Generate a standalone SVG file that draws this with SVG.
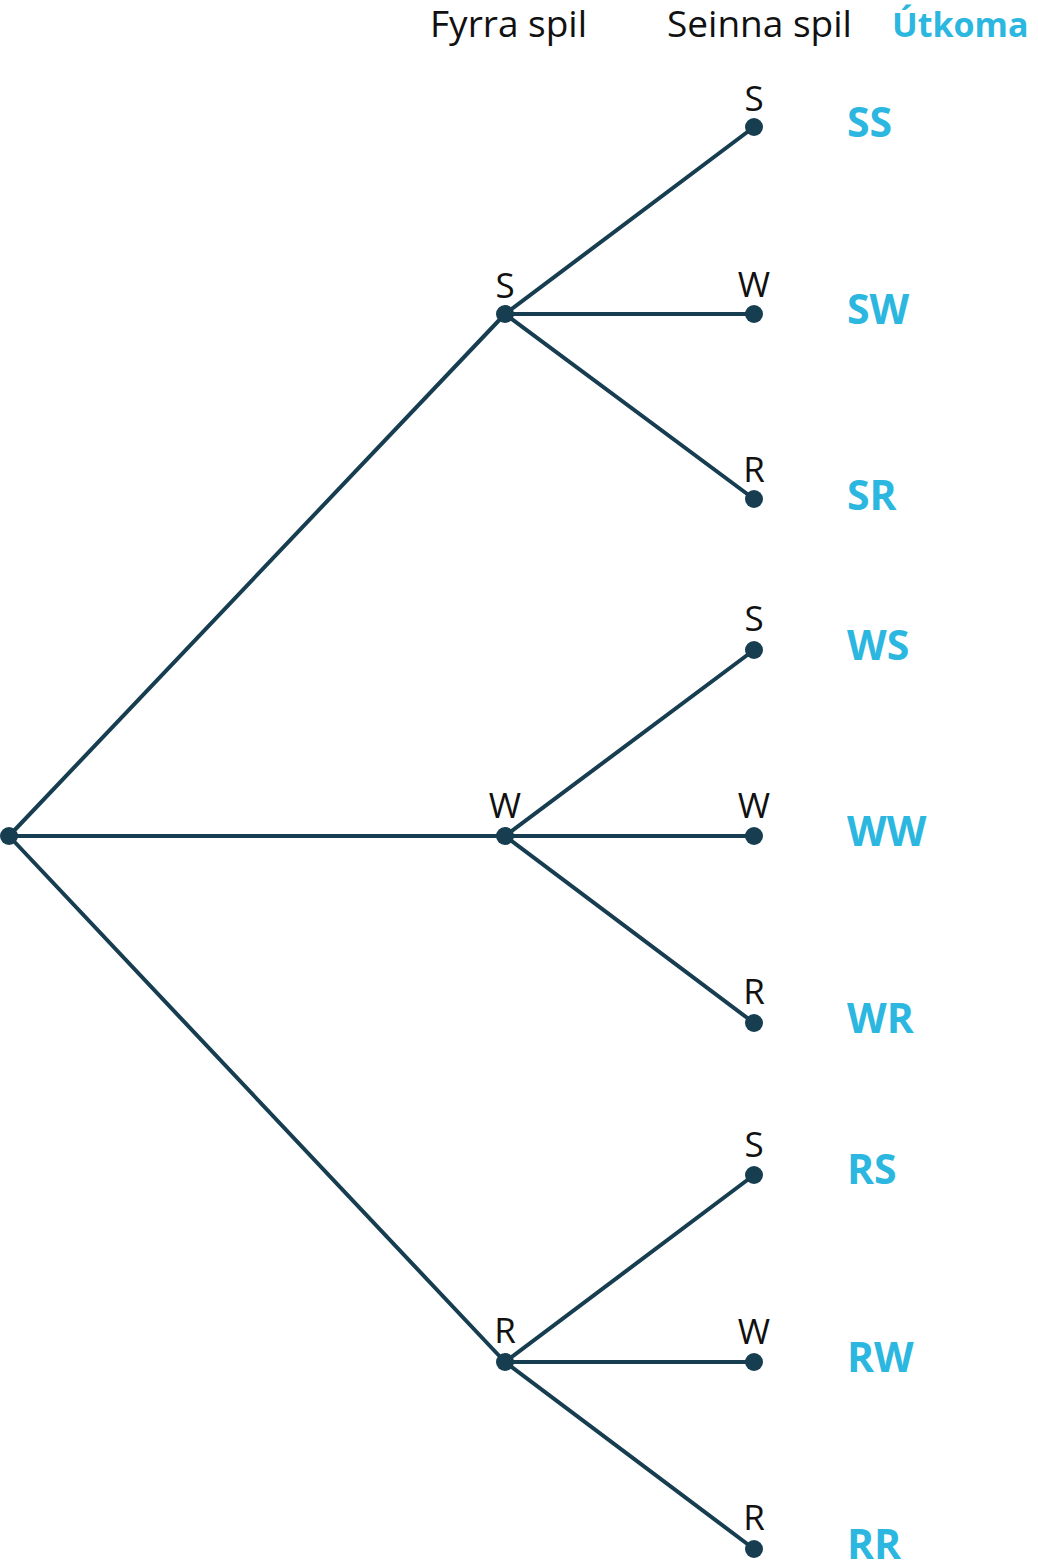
<svg xmlns="http://www.w3.org/2000/svg" width="1038" height="1564" viewBox="0 0 1038 1564">
<style>
.e{stroke:#173d50;stroke-width:4;fill:none;stroke-linecap:round}
.d{fill:#173d50}
.h{font-family:"Open Sans","Noto Sans",sans-serif;font-size:37px;fill:#111}
.hb{font-family:"Open Sans","Noto Sans",sans-serif;font-size:34px;font-weight:bold;fill:#2bb7df}
.l{font-family:"Open Sans","Noto Sans",sans-serif;font-size:35px;fill:#111;text-anchor:middle}
.o{font-family:"Open Sans","Noto Sans",sans-serif;font-size:41px;font-weight:bold;fill:#2bb7df}
</style>
<rect width="1038" height="1564" fill="#fff"/>
<g id="headers">
<text class="h" x="430" y="37">Fyrra spil</text>
<text class="h" x="667" y="37">Seinna spil</text>
<text class="hb" x="892" y="37">Útkoma</text>
</g>
<g id="connectors">
<line class="e" x1="9" y1="836" x2="505" y2="314"/>
<line class="e" x1="9" y1="836" x2="505" y2="836"/>
<line class="e" x1="9" y1="836" x2="505" y2="1362"/>
<line class="e" x1="505" y1="314" x2="754" y2="127"/>
<line class="e" x1="505" y1="314" x2="754" y2="314"/>
<line class="e" x1="505" y1="314" x2="754" y2="499"/>
<line class="e" x1="505" y1="836" x2="754" y2="650"/>
<line class="e" x1="505" y1="836" x2="754" y2="836"/>
<line class="e" x1="505" y1="836" x2="754" y2="1023"/>
<line class="e" x1="505" y1="1362" x2="754" y2="1175"/>
<line class="e" x1="505" y1="1362" x2="754" y2="1362"/>
<line class="e" x1="505" y1="1362" x2="754" y2="1549"/>
</g>
<g id="root"><circle class="d" cx="9" cy="836" r="9"/></g>
<g id="n-S"><circle class="d" cx="505" cy="314" r="9"/><text class="l" x="505" y="298">S</text></g>
<g id="n-W"><circle class="d" cx="505" cy="836" r="9"/><text class="l" x="505" y="818">W</text></g>
<g id="n-R"><circle class="d" cx="505" cy="1362" r="9"/><text class="l" x="505" y="1343">R</text></g>
<g id="n-SS"><circle class="d" cx="754" cy="127" r="9"/><text class="l" x="754" y="111">S</text><text class="o" x="847" y="137">SS</text></g>
<g id="n-SW"><circle class="d" cx="754" cy="314" r="9"/><text class="l" x="754" y="297">W</text><text class="o" x="847" y="324">SW</text></g>
<g id="n-SR"><circle class="d" cx="754" cy="499" r="9"/><text class="l" x="754" y="482">R</text><text class="o" x="847" y="510">SR</text></g>
<g id="n-WS"><circle class="d" cx="754" cy="650" r="9"/><text class="l" x="754" y="631">S</text><text class="o" x="847" y="660">WS</text></g>
<g id="n-WW"><circle class="d" cx="754" cy="836" r="9"/><text class="l" x="754" y="818">W</text><text class="o" x="847" y="846">WW</text></g>
<g id="n-WR"><circle class="d" cx="754" cy="1023" r="9"/><text class="l" x="754" y="1004">R</text><text class="o" x="847" y="1033">WR</text></g>
<g id="n-RS"><circle class="d" cx="754" cy="1175" r="9"/><text class="l" x="754" y="1157">S</text><text class="o" x="847" y="1184">RS</text></g>
<g id="n-RW"><circle class="d" cx="754" cy="1362" r="9"/><text class="l" x="754" y="1344">W</text><text class="o" x="847" y="1372">RW</text></g>
<g id="n-RR"><circle class="d" cx="754" cy="1549" r="9"/><text class="l" x="754" y="1530">R</text><text class="o" x="847" y="1559">RR</text></g>
</svg>
